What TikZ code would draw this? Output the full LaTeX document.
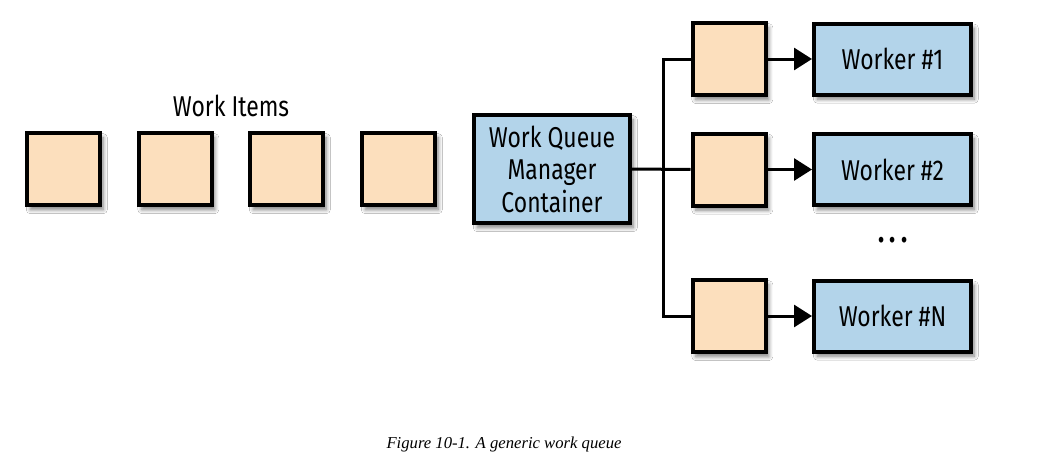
\documentclass[tikz,border=0pt]{standalone}
\usepackage{fontspec}
\setmainfont{Liberation Serif}
\newfontfamily\labelfont[FakeStretch=0.8]{Fira Sans}
\usetikzlibrary{arrows.meta,shadows.blur}
\definecolor{itemfill}{HTML}{FCDFBD}
\definecolor{boxblue}{HTML}{B3D4EA}
\tikzset{
  shad/.style={blur shadow={shadow xshift=2.5pt, shadow yshift=-3.5pt, shadow blur steps=6, shadow opacity=50, shadow blur radius=3pt}},
  item/.style={draw=black, line width=3pt, fill=itemfill, minimum width=54.75pt, minimum height=54pt, inner sep=0pt, shad},
  bluebox/.style={draw=black, line width=3pt, fill=boxblue, inner sep=0pt, shad, font=\labelfont\fontsize{21.5}{24.4}\selectfont, align=center},
  worker/.style={bluebox, minimum width=117.75pt, minimum height=53.25pt},
  conn/.style={line width=2.25pt},
  arr/.style={conn, -{Triangle[length=13.5pt, width=16.5pt]}},
  lbl/.style={font=\labelfont\fontsize{21.5}{24.4}\selectfont, inner sep=0pt}
}
\begin{document}
\begin{tikzpicture}[x=0.75pt, y=-0.75pt]
\useasboundingbox[fill=white] (0,0) rectangle (1050,464);
% work items
\node[lbl] (title) at (231,106) {Work Items};
\node[item] (w1) at (63.5,169) {};
\node[item] (w2) at (175,169) {};
\node[item] (w3) at (286.5,169) {};
\node[item] (w4) at (398.5,169) {};
% manager
\node[bluebox, minimum width=117pt, minimum height=81pt] (mgr) at (552,169) {Work Queue\\Manager\\Container};
% queue boxes
\node[item] (q1) at (729,59) {};
\node[item] (q2) at (729,169.5) {};
\node[item] (q3) at (729,316) {};
% workers
\node[worker] (k1) at (892.5,59) {Worker \#1};
\node[worker] (k2) at (892.5,169.5) {Worker \#2};
\node[worker] (kn) at (892.5,316) {Worker \#N};
\node[lbl, font=\labelfont\bfseries\fontsize{24}{26}\selectfont] (dots) at (893,240) {.\,.\,.};
% connectors
\coordinate (j) at (663,169.5);
\draw[conn] (mgr.east) -- (q2.west);
\draw[conn] (q1.west) -| (j) |- (q3.west);
\draw[arr] (q1.east) -- (k1.west);
\draw[arr] (q2.east) -- (k2.west);
\draw[arr] (q3.east) -- (kn.west);
% caption
\node[font=\itshape\fontsize{12.5}{15}\selectfont, inner sep=0pt] (cap) at (504,444) {Figure 10-1. A generic work queue};
\end{tikzpicture}
\end{document}
